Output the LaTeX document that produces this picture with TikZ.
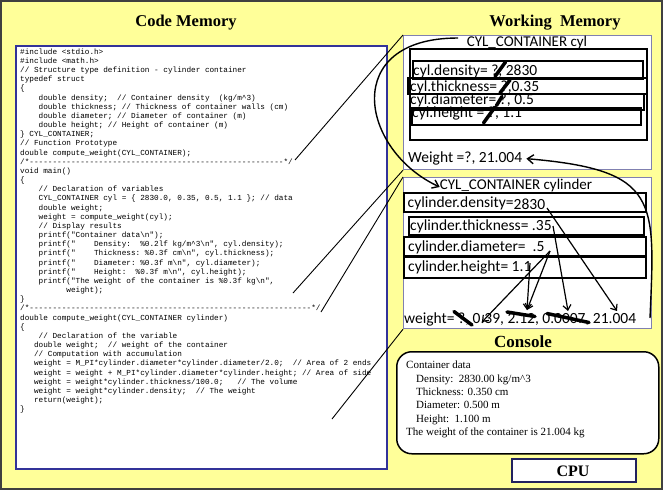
\documentclass[tikz,border=0pt]{standalone}
\usepackage{fontspec}
\setmainfont{Liberation Serif}
\setmonofont{Liberation Mono}
\newfontfamily\calib{Carlito}
\usetikzlibrary{arrows.meta}
\definecolor{slideyellow}{HTML}{FFFF99}
\definecolor{codeblue}{HTML}{333399}
\definecolor{wmborder}{HTML}{8080B0}
\definecolor{cpublue}{HTML}{22225E}
\tikzset{
  codetext/.style={anchor=north west, inner sep=0pt, align=left,
    font=\ttfamily\fontsize{7.7}{9.17}\selectfont\frenchspacing},
  memtxt/.style={anchor=base west, inner sep=0pt, font=\calib\fontsize{15.5}{18}\selectfont},
  memttl/.style={anchor=base, inner sep=0pt, font=\calib\fontsize{15}{18}\selectfont},
  titletxt/.style={anchor=base, inner sep=0pt, font=\bfseries\fontsize{16.5}{20}\selectfont},
  cell/.style={draw=black, line width=2.2pt},
  cellb/.style={draw=black, line width=2.6pt},
  strike/.style={line width=3.5pt, line cap=round},
  memarrow/.style={-{Straight Barb[length=5pt,width=8pt]}, line width=1.2pt},
  bigarrow/.style={-{Straight Barb[length=6pt,width=9pt]}, line width=1.4pt},
  link/.style={line width=0.9pt},
  box/.style={anchor=north west, inner sep=0pt}
}
\begin{document}
\begin{tikzpicture}[x=1pt,y={(0pt,-1pt)}]
\useasboundingbox (0,0) rectangle (663,490);
% slide background
\draw[fill=slideyellow, draw=black!75, line width=1.5pt] (1,1) rectangle (662,489);

% titles
\node[titletxt] (tcode) at (186,26) {Code Memory};
\node[titletxt] (twm) at (555,26) {Working~~Memory};
\node[titletxt, font=\bfseries\fontsize{17}{20}\selectfont] (tcons) at (523,347) {Console};

% code memory box
\node[box, draw=codeblue, fill=white, line width=2pt, minimum width=371pt, minimum height=423pt] (codebox) at (15,45) {};
\node[codetext] (code) at (20,48) {\rule{0pt}{6pt}\#include <stdio.h>\\
\#include <math.h>\\
// Structure type definition - cylinder container\\
typedef struct\\
\{\\
~~~~double density;~~// Container density~~(kg/m\textasciicircum 3)\\
~~~~double thickness; // Thickness of container walls (cm)\\
~~~~double diameter; // Diameter of container (m)\\
~~~~double height; // Height of container (m)\\
\} CYL\_CONTAINER;\\
// Function Prototype\\
double compute\_weight(CYL\_CONTAINER);\\
/*-------------------------------------------------------*/\\
void main()\\
\{\\
~~~~// Declaration of variables\\
~~~~CYL\_CONTAINER cyl = \{ 2830.0, 0.35, 0.5, 1.1 \}; // data\\
~~~~double weight;\\
~~~~weight = compute\_weight(cyl);\\
~~~~// Display results\\
~~~~printf("Container data\textbackslash n");\\
~~~~printf("~~~~Density:~~\%0.2lf kg/m\textasciicircum 3\textbackslash n", cyl.density);\\
~~~~printf("~~~~Thickness: \%0.3f cm\textbackslash n", cyl.thickness);\\
~~~~printf("~~~~Diameter: \%0.3f m\textbackslash n", cyl.diameter);\\
~~~~printf("~~~~Height:~~\%0.3f m\textbackslash n", cyl.height);\\
~~~~printf("The weight of the container is \%0.3f kg\textbackslash n",\\
~~~~~~~~~~weight);\\
\}\\
/*-------------------------------------------------------------*/\\
double compute\_weight(CYL\_CONTAINER cylinder)\\
\{\\
~~~~// Declaration of the variable\\
~~~double weight;~~// weight of the container\\
~~~// Computation with accumulation\\
~~~weight = M\_PI*cylinder.diameter*cylinder.diameter/2.0;~~// Area of 2 ends\\
~~~weight = weight + M\_PI*cylinder.diameter*cylinder.height; // Area of side\\
~~~weight = weight*cylinder.thickness/100.0;~~~// The volume\\
~~~weight = weight*cylinder.density;~~// The weight\\
~~~return(weight);\\
\}};

% working memory boxes
\node[box, draw=wmborder, fill=white, line width=1.2pt, minimum width=248pt, minimum height=134pt] (wm1) at (403,35) {};
\node[box, draw=wmborder, fill=white, line width=1.2pt, minimum width=248pt, minimum height=151pt] (wm2) at (403,177) {};

% upper memory: cyl
\node[memttl] (cylttl) at (527,46) {CYL\_CONTAINER cyl};
\draw[cell] (410,49) rectangle (647,140);
\draw[cell] (413,61) rectangle (643,79);
\draw[cell] (408,78) rectangle (647,94);
\draw[cell] (410,94) rectangle (644,110);
\draw[cell] (412,108) rectangle (641,125);
\node[memtxt] (cden) at (413,75) {cyl.density= ?, 2830};
\node[memtxt] (cthk) at (410,91.5) {cyl.thickness= ?,0.35};
\node[memtxt] (cdia) at (410,104.5) {cyl.diameter= ?, 0.5};
\node[memtxt] (chgt) at (412,117) {cyl.height = ?, 1.1};
\draw[strike] (495,76.5) -- (505.5,62);
\draw[strike] (500,93) -- (510,80);
\draw[strike] (496.5,105.5) -- (502,96.5);
\draw[strike] (483.5,123) -- (495,107);
\node[memtxt] (cwgt) at (408,162.7) {Weight =?, 21.004};

% lower memory: cylinder
\node[memttl] (cylttl2) at (516,189) {CYL\_CONTAINER cylinder};
\draw[cellb] (404,193) rectangle (646,212);
\draw[cellb] (409,217) rectangle (644,235);
\draw[cellb] (404,237) rectangle (646,256);
\draw[cellb] (404,257) rectangle (646,278);
\node[memtxt] (yden) at (407.5,207.3) {cylinder.density=\raisebox{-2.5pt}{2830}};
\node[memtxt] (ythk) at (410,230) {cylinder.thickness= .35};
\node[memtxt] (ydia) at (408,251) {cylinder.diameter= ~.5};
\node[memtxt] (yhgt) at (408,271.7) {cylinder.height= 1.1};
\node[memtxt] (ywgt) at (404,323.3) {weight= ?, 0.39, 2.12, 0.0007, 21.004};
\draw[strike] (454,311.5) -- (472,325);
\draw[strike] (507,312) -- (535,316.5);
\draw[strike] (547,313.5) -- (589,322.5);

% data-flow arrows inside lower memory
\coordinate (sden) at (547,208);
\coordinate (sthk) at (553,226);
\coordinate (sdia) at (550,251);
\coordinate (shgt) at (530,263);
\coordinate (v039) at (482,322);
\coordinate (v212) at (527,310);
\coordinate (v0007) at (568,311);
\coordinate (v21) at (617,311);
\draw[memarrow] (sdia) -- (v039);
\draw[memarrow] (sdia) -- (v212);
\draw[memarrow] (shgt) -- (v212);
\draw[memarrow] (sthk) -- (v0007);
\draw[memarrow] (sden) -- (v21);

% big curved arrows
\coordinate (cstart) at (458,38);
\draw[bigarrow] (cstart) .. controls (340,38) and (360,150) .. ([yshift=-2pt]cylttl2.west);
\coordinate (wend) at (650,318);
\draw[bigarrow] (wend) .. controls (655,200) and (660,170) .. ([xshift=4pt]cwgt.east);

% links from code to memory
\coordinate (c1) at (295,160);
\coordinate (c2) at (293,293);
\coordinate (c3) at (321,312);
\coordinate (c4) at (332,419);
\draw[link] (c1) -- (wm1.north west);
\draw[link] (c2) -- (wm1.south west);
\draw[link] (c3) -- (wm2.north west);
\draw[link] (c4) -- (wm2.south west);

% console
\node[box, draw=black, fill=white, line width=1.5pt, rounded corners=15pt, minimum width=262pt, minimum height=102pt] (console) at (396,351) {};
\node[codetext, font=\fontsize{11}{13.4}\selectfont] (ctext) at (406,359.5) {\rule{0pt}{9pt}Container data\\
\hspace*{10pt}Density:~~2830.00 kg/m\textasciicircum 3\\
\hspace*{10pt}Thickness: 0.350 cm\\
\hspace*{10pt}Diameter: 0.500 m\\
\hspace*{10pt}Height:~~1.100 m\\
The weight of the container is 21.004 kg};

% CPU
\node[box, draw=cpublue, fill=white, line width=2pt, minimum width=124pt, minimum height=23pt] (cpu) at (511,458) {};
\node[titletxt, font=\bfseries\fontsize{16}{20}\selectfont] (cputxt) at (573,476.5) {CPU};
\end{tikzpicture}
\end{document}
